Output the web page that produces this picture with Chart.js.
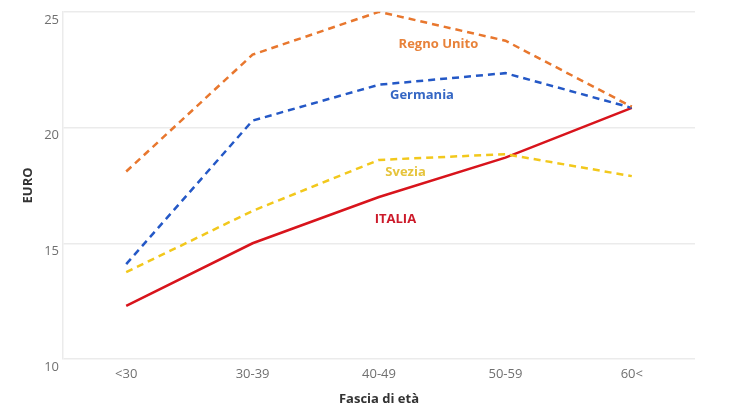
<!DOCTYPE html>
<html>
<head>
<meta charset="utf-8">
<script src="https://cdn.jsdelivr.net/npm/chart.js@4"></script>
<style>
  html, body { margin: 0; padding: 0; background: #fff; }
  #wrap { width: 735px; height: 413px; }
</style>
</head>
<body>
<div id="wrap"><canvas id="chart"></canvas></div>
<script>
// fasce di età e valori (euro)
const categories = ['<30', '30-39', '40-49', '50-59', '60<'];
const regnoUnito = [18.1, 23.15, 25.0, 23.75, 20.9];
const germania = [14.1, 20.3, 21.85, 22.35, 20.85];
const svezia = [13.75, 16.4, 18.6, 18.85, 17.9];
const italia = [12.3, 15.0, 17.0, 18.7, 20.85];
const yTicks = [10, 15, 20, 25];

// etichette delle serie, posizionate nello spazio dei dati
const seriesLabels = [
  { text: 'Regno Unito', x: 2.47, y: 23.6, color: '#e8823a' },
  { text: 'Germania', x: 2.34, y: 21.4, color: '#3466c4' },
  { text: 'Svezia', x: 2.21, y: 18.05, color: '#e6c43c' },
  { text: 'ITALIA', x: 2.13, y: 16.05, color: '#cc1a2a' }
];

const labelPlugin = {
  id: 'seriesLabels',
  afterDatasetsDraw(chart) {
    const ctx = chart.ctx;
    const xs = chart.scales.x, ys = chart.scales.y;
    ctx.save();
    ctx.font = 'bold 13px "Open Sans", sans-serif';
    ctx.textAlign = 'center';
    ctx.textBaseline = 'middle';
    seriesLabels.forEach(l => {
      ctx.fillStyle = l.color;
      ctx.fillText(l.text, xs.getPixelForValue(l.x), ys.getPixelForValue(l.y));
    });
    ctx.restore();
  }
};

function line(label, values, color, dashed) {
  return {
    label: label,
    data: values,
    borderColor: color,
    backgroundColor: color,
    borderWidth: 2.5,
    borderDash: dashed ? [7, 5] : [],
    pointRadius: 0,
    tension: 0,
    fill: false
  };
}

const data = {
  labels: categories,
  datasets: [
    line('Regno Unito', regnoUnito, '#e8772e', true),
    line('Germania', germania, '#2458c6', true),
    line('Svezia', svezia, '#f2c81c', true),
    line('ITALIA', italia, '#d8141c', false)
  ]
};

const config = {
  type: 'line',
  data: data,
  plugins: [labelPlugin],
  options: {
    responsive: true,
    maintainAspectRatio: false,
    animation: false,
    layout: { padding: { left: 12, right: 40, top: 11, bottom: 0 } },
    plugins: {
      legend: { display: false },
      title: { display: false },
      tooltip: { enabled: false }
    },
    scales: {
      x: {
        offset: true,
        grid: { display: false, drawTicks: true, tickLength: 4, color: '#e6e6e6' },
        border: { display: false },
        ticks: { color: '#707070', padding: 3, font: { family: '"Open Sans", sans-serif', size: 13 } },
        title: {
          display: true, text: 'Fascia di età', color: '#333',
          font: { family: '"Open Sans", sans-serif', size: 13, weight: 'bold' },
          padding: { top: 6, bottom: 6 }
        },
        afterFit(scale) { scale.height = 54; }
      },
      y: {
        min: 10,
        max: 25,
        afterBuildTicks(scale) { scale.ticks = yTicks.map(v => ({ value: v })); },
        grid: { color: '#ebebeb', lineWidth: 1.5, drawTicks: false },
        border: { display: true, color: '#ebebeb', width: 1.5 },
        ticks: {
          color: '#707070', padding: 4, labelOffset: 8,
          font: { family: '"Open Sans", sans-serif', size: 13 }
        },
        title: {
          display: true, text: 'EURO', color: '#333',
          font: { family: '"Open Sans", sans-serif', size: 13, weight: 'bold' },
          padding: { top: 8, bottom: 0 }
        },
        afterFit(scale) { scale.width = 51; }
      }
    }
  }
};

new Chart(document.getElementById('chart').getContext('2d'), config);
</script>
</body>
</html>
